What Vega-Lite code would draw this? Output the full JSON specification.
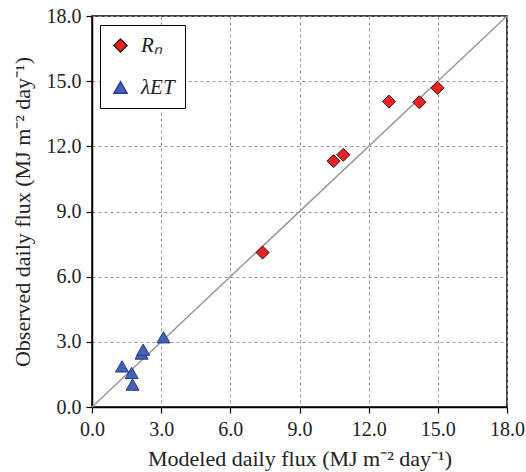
{
  "$schema": "https://vega.github.io/schema/vega-lite/v6.json",
  "width": 415,
  "height": 391,
  "autosize": {"type": "none"},
  "padding": {"left": 92, "top": 16, "right": 19, "bottom": 65},
  "background": "white",
  "config": {
    "font": "Liberation Serif",
    "view": {"stroke": "black", "strokeWidth": 1.5},
    "axis": {
      "labelFont": "Liberation Serif",
      "titleFont": "Liberation Serif",
      "labelFontSize": 20,
      "titleFontSize": 22,
      "titleFontWeight": "normal",
      "labelColor": "#222",
      "titleColor": "#222",
      "labelFlush": false,
      "domainColor": "black",
      "domainWidth": 1.5,
      "tickColor": "black",
      "tickWidth": 1.2,
      "tickSize": 6,
      "gridColor": "#999",
      "gridDash": [3, 3],
      "gridWidth": 1
    },
    "legend": {
      "orient": "none",
      "legendX": 8,
      "legendY": 9,
      "strokeColor": "black",
      "fillColor": "white",
      "padding": 10,
      "rowPadding": 20,
      "labelFont": "Liberation Serif",
      "labelFontSize": 21,
      "labelFontStyle": "italic",
      "labelColor": "#222",
      "labelOffset": 10,
      "symbolSize": 170
    }
  },
  "datasets": {
    "pts": [
      {"series": "Rₙ", "modeled": 7.40, "observed": 7.11},
      {"series": "Rₙ", "modeled": 10.48, "observed": 11.32},
      {"series": "Rₙ", "modeled": 10.90, "observed": 11.61},
      {"series": "Rₙ", "modeled": 12.88, "observed": 14.06},
      {"series": "Rₙ", "modeled": 14.20, "observed": 14.03},
      {"series": "Rₙ", "modeled": 14.99, "observed": 14.69},
      {"series": "λET", "modeled": 1.30, "observed": 1.87},
      {"series": "λET", "modeled": 1.72, "observed": 1.57},
      {"series": "λET", "modeled": 1.76, "observed": 1.03},
      {"series": "λET", "modeled": 2.15, "observed": 2.46},
      {"series": "λET", "modeled": 2.22, "observed": 2.64},
      {"series": "λET", "modeled": 3.10, "observed": 3.21}
    ],
    "diag": [
      {"modeled": 0, "observed": 0},
      {"modeled": 18, "observed": 18}
    ]
  },
  "layer": [
    {
      "data": {"name": "diag"},
      "mark": {"type": "line", "color": "#999", "strokeWidth": 1.5},
      "encoding": {
        "x": {
          "field": "modeled", "type": "quantitative",
          "scale": {"domain": [0, 18], "nice": false},
          "axis": {"values": [0, 3, 6, 9, 12, 15, 18], "format": ".1f", "title": "Modeled daily flux (MJ m⁻² day⁻¹)", "labelPadding": 6, "titlePadding": 9}
        },
        "y": {
          "field": "observed", "type": "quantitative",
          "scale": {"domain": [0, 18], "nice": false},
          "axis": {"values": [0, 3, 6, 9, 12, 15, 18], "format": ".1f", "title": "Observed daily flux (MJ m⁻² day⁻¹)", "labelPadding": 5, "titlePadding": 12}
        }
      }
    },
    {
      "data": {"name": "pts"},
      "mark": {"type": "point", "filled": true, "opacity": 1, "size": 170, "strokeWidth": 1},
      "encoding": {
        "x": {"field": "modeled", "type": "quantitative"},
        "y": {"field": "observed", "type": "quantitative"},
        "shape": {
          "field": "series", "type": "nominal",
          "scale": {"domain": ["Rₙ", "λET"], "range": ["diamond", "triangle-up"]},
          "legend": {"title": null}
        },
        "fill": {
          "field": "series", "type": "nominal",
          "scale": {"domain": ["Rₙ", "λET"], "range": ["#e82224", "#4462b4"]},
          "legend": {"title": null}
        },
        "stroke": {
          "field": "series", "type": "nominal",
          "scale": {"domain": ["Rₙ", "λET"], "range": ["#4a1010", "#2a3a90"]},
          "legend": {"title": null}
        }
      }
    }
  ]
}
